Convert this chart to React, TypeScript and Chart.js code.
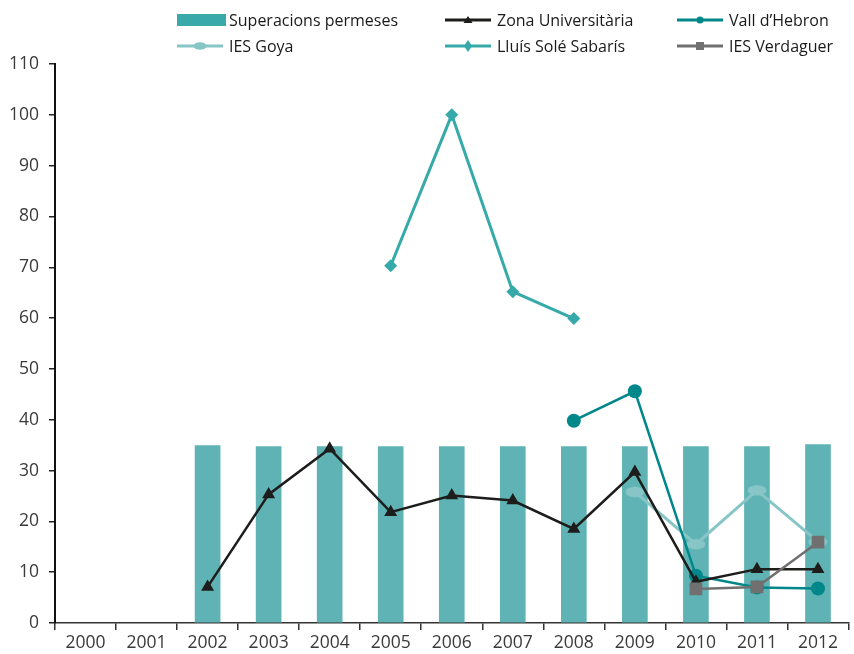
import React, { useEffect, useRef } from 'react';
import { Chart, registerables } from 'chart.js';

Chart.register(...registerables);

const years = ['2000', '2001', '2002', '2003', '2004', '2005', '2006', '2007', '2008', '2009', '2010', '2011', '2012'];
const superacionsPermeses = [null, null, 34.9, 34.7, 34.7, 34.7, 34.7, 34.7, 34.7, 34.7, 34.7, 34.7, 35.1];
const zonaUniversitaria = [null, null, 7.1, 25.3, 34.3, 21.8, 25.1, 24.1, 18.5, 29.7, 8.1, 10.6, 10.6];
const vallHebron = [null, null, null, null, null, null, null, null, 39.8, 45.6, 9.3, 7.0, 6.8];
const iesGoya = [null, null, null, null, null, null, null, null, null, 25.8, 15.5, 26.1, 16.0];
const lluisSole = [null, null, null, null, null, 70.3, 100, 65.2, 59.9, null, null, null, null];
const iesVerdaguer = [null, null, null, null, null, null, null, null, null, null, 6.7, 7.1, 15.9];
const yMin = 0;
const yMax = 110;
const yStep = 10;

const C_BAR = '#5fb3b4';
const C_BAR_LEG = '#3aa9aa';
const C_ZONA = '#1d1d1b';
const C_VALL = '#00878a';
const C_GOYA = '#88c5c6';
const C_LLUIS = '#36a9a9';
const C_VERD = '#707070';

const FONT = '"Open Sans", "Noto Sans", sans-serif';

function LegendMarker({ kind, color }: { kind: string; color: string }) {
  if (kind === 'bar') {
    return (
      <svg width={50} height={16}>
        <rect x={0} y={2} width={49} height={12} fill={color} />
      </svg>
    );
  }
  let m: any = null;
  if (kind === 'triangle') m = <polygon points="23,4 27.5,11 18.5,11" fill={color} />;
  if (kind === 'circle') m = <circle cx={23} cy={8} r={3.5} fill={color} />;
  if (kind === 'ellipse') m = <ellipse cx={23} cy={8} rx={6.5} ry={3.8} fill={color} />;
  if (kind === 'diamond') m = <polygon points="23,2 27,8 23,14 19,8" fill={color} />;
  if (kind === 'square') m = <rect x={19} y={4} width={8} height={8} fill={color} />;
  return (
    <svg width={50} height={16}>
      <line x1={0} y1={8} x2={46} y2={8} stroke={color} strokeWidth={3} />
      {m}
    </svg>
  );
}

export default function App() {
  const ref = useRef<HTMLCanvasElement | null>(null);

  useEffect(() => {
    if (!ref.current) return;
    const ell = document.createElement('canvas');
    ell.width = 20;
    ell.height = 12;
    const ec = ell.getContext('2d');
    if (ec) {
      ec.fillStyle = C_GOYA;
      ec.beginPath();
      ec.ellipse(10, 6, 9.5, 5.3, 0, 0, Math.PI * 2);
      ec.fill();
    }
    const chart = new Chart(ref.current, {
      type: 'bar',
      data: {
        labels: years,
        datasets: [
          {
            type: 'line',
            label: 'IES Verdaguer',
            data: iesVerdaguer,
            borderColor: C_VERD,
            backgroundColor: C_VERD,
            borderWidth: 2.5,
            pointStyle: 'rect',
            pointRadius: 9,
            pointBorderWidth: 0,
            pointBackgroundColor: C_VERD,
            tension: 0,
            order: 0,
          } as any,
          {
            type: 'line',
            label: 'Zona Universitària',
            data: zonaUniversitaria,
            borderColor: C_ZONA,
            backgroundColor: C_ZONA,
            borderWidth: 2.5,
            pointStyle: 'triangle',
            pointRadius: 7.5,
            pointBorderWidth: 0,
            pointBackgroundColor: C_ZONA,
            tension: 0,
            order: 1,
          } as any,
          {
            type: 'line',
            label: "Vall d'Hebron",
            data: vallHebron,
            borderColor: C_VALL,
            backgroundColor: C_VALL,
            borderWidth: 2.5,
            pointStyle: 'circle',
            pointRadius: 7,
            pointBorderWidth: 0,
            pointBackgroundColor: C_VALL,
            tension: 0,
            order: 2,
          } as any,
          {
            type: 'line',
            label: 'IES Goya',
            data: iesGoya,
            borderColor: C_GOYA,
            backgroundColor: C_GOYA,
            borderWidth: 3,
            pointStyle: ell,
            pointRadius: 8,
            tension: 0,
            order: 3,
          } as any,
          {
            type: 'line',
            label: 'Lluís Solé Sabarís',
            data: lluisSole,
            borderColor: C_LLUIS,
            backgroundColor: C_LLUIS,
            borderWidth: 3,
            pointStyle: 'rectRot',
            pointRadius: 6.5,
            pointBorderWidth: 0,
            pointBackgroundColor: C_LLUIS,
            tension: 0,
            order: 4,
          } as any,
          {
            type: 'bar',
            label: 'Superacions permeses',
            data: superacionsPermeses,
            backgroundColor: C_BAR,
            borderWidth: 0,
            barThickness: 25,
            order: 5,
          } as any,
        ],
      },
      options: {
        responsive: false,
        animation: false,
        layout: { autoPadding: false, padding: { top: 64, right: 5.5, left: 0, bottom: 0 } },
        plugins: {
          legend: { display: false },
          tooltip: { enabled: false },
        },
        scales: {
          x: {
            offset: true,
            grid: {
              offset: true,
              drawOnChartArea: false,
              drawTicks: true,
              tickLength: 7,
              color: '#333333',
              lineWidth: 1.5,
            },
            border: { display: true, color: '#333333', width: 1.5 },
            ticks: {
              color: '#3a3a3a',
              font: { family: FONT, size: 17.5 },
              padding: 3,
              maxRotation: 0,
              autoSkip: false,
            },
            afterFit: (s: any) => {
              s.height = 31;
              s.paddingLeft = 0;
              s.paddingRight = 0;
            },
          },
          y: {
            min: yMin,
            max: yMax,
            ticks: {
              stepSize: yStep,
              color: '#3a3a3a',
              font: { family: FONT, size: 17.5 },
              padding: 10,
            },
            grid: {
              drawOnChartArea: false,
              drawTicks: true,
              tickLength: 6,
              color: '#222222',
              lineWidth: 1.5,
            },
            border: { display: true, color: '#111111', width: 2 },
            afterFit: (s: any) => {
              s.width = 55;
            },
          },
        },
      } as any,
    });
    return () => chart.destroy();
  }, []);

  const legend = [
    { label: 'Superacions permeses', kind: 'bar', color: C_BAR_LEG, x: 177, y: 20 },
    { label: 'Zona Universitària', kind: 'triangle', color: C_ZONA, x: 445, y: 20 },
    { label: 'Vall d’Hebron', kind: 'circle', color: C_VALL, x: 677, y: 20 },
    { label: 'IES Goya', kind: 'ellipse', color: C_GOYA, x: 177, y: 46 },
    { label: 'Lluís Solé Sabarís', kind: 'diamond', color: C_LLUIS, x: 445, y: 46 },
    { label: 'IES Verdaguer', kind: 'square', color: C_VERD, x: 677, y: 46 },
  ];

  return (
    <div style={{ position: 'absolute', left: 0, top: 0, width: 854, height: 654, background: '#fff' }}>
      <canvas ref={ref} width={854} height={654} style={{ display: 'block' }} />
      {legend.map((it) => (
        <React.Fragment key={it.label}>
          <div style={{ position: 'absolute', left: it.x, top: it.y - 8, width: 50, height: 16, lineHeight: 0 }}>
            <LegendMarker kind={it.kind} color={it.color} />
          </div>
          <div
            style={{
              position: 'absolute',
              left: it.x + 52,
              top: it.y - 12,
              height: 24,
              lineHeight: '24px',
              fontFamily: FONT,
              fontSize: 16,
              color: '#1a1a1a',
              whiteSpace: 'nowrap',
            }}
          >
            {it.label}
          </div>
        </React.Fragment>
      ))}
    </div>
  );
}
